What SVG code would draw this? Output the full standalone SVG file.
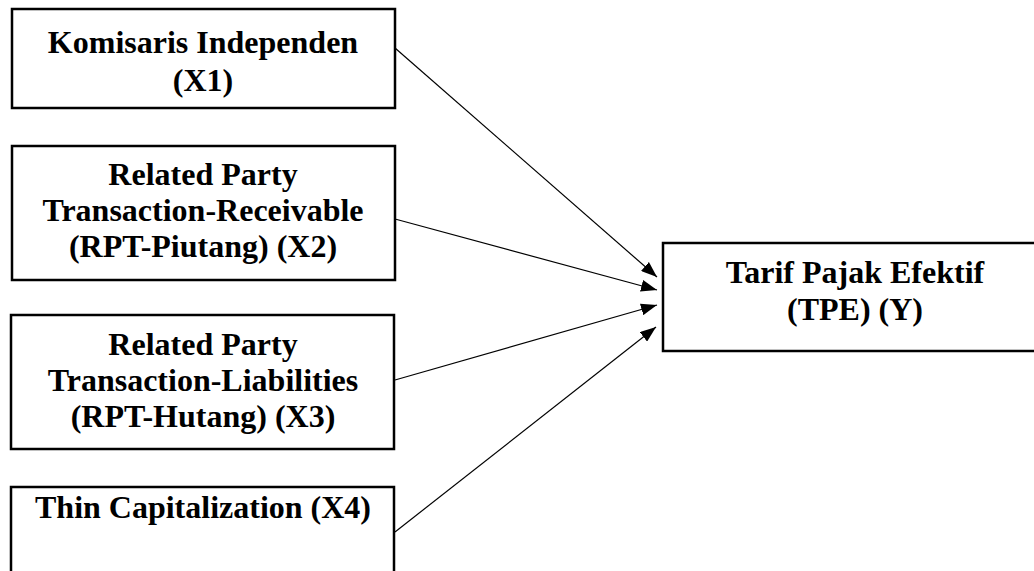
<svg xmlns="http://www.w3.org/2000/svg" width="1034" height="571" viewBox="0 0 1034 571">
  <style>
    .box { fill: #ffffff; stroke: #000000; stroke-width: 2.5; }
    .label { font-family: "Liberation Serif", "Times New Roman", serif; font-weight: bold; font-size: 32px; fill: #000000; text-anchor: middle; }
    .link { stroke: #000000; stroke-width: 1.2; fill: none; marker-end: url(#arrow); }
  </style>
  <defs>
    <marker id="arrow" markerUnits="userSpaceOnUse" markerWidth="16" markerHeight="12" refX="16" refY="6" orient="auto">
      <path d="M0,0 L16,6 L0,12 Z" fill="#000000"/>
    </marker>
  </defs>

  <rect width="1034" height="571" fill="#ffffff"/>

  <!-- connectors: each predictor points at the outcome -->
  <g id="connectors">
    <line class="link" x1="395" y1="48" x2="657" y2="277"/>
    <line class="link" x1="395" y1="219" x2="657" y2="290"/>
    <line class="link" x1="395" y1="380" x2="657" y2="305"/>
    <line class="link" x1="395" y1="532" x2="656" y2="327"/>
  </g>

  <g id="x1">
    <rect class="box" x="12" y="9" width="383" height="99"/>
    <text class="label" x="203" y="53">Komisaris Independen</text>
    <text class="label" x="203" y="91">(X1)</text>
  </g>

  <g id="x2">
    <rect class="box" x="12" y="146" width="383" height="134"/>
    <text class="label" x="203" y="185">Related Party</text>
    <text class="label" x="203" y="221">Transaction-Receivable</text>
    <text class="label" x="203" y="257">(RPT-Piutang) (X2)</text>
  </g>

  <g id="x3">
    <rect class="box" x="11" y="315" width="383" height="134"/>
    <text class="label" x="203" y="355">Related Party</text>
    <text class="label" x="203" y="391">Transaction-Liabilities</text>
    <text class="label" x="203" y="427">(RPT-Hutang) (X3)</text>
  </g>

  <g id="x4">
    <rect class="box" x="11" y="487" width="383" height="120"/>
    <text class="label" x="203" y="518">Thin Capitalization (X4)</text>
  </g>

  <g id="y">
    <rect class="box" x="663" y="243" width="385" height="108"/>
    <text class="label" x="855" y="283">Tarif Pajak Efektif</text>
    <text class="label" x="855" y="320">(TPE) (Y)</text>
  </g>
</svg>
